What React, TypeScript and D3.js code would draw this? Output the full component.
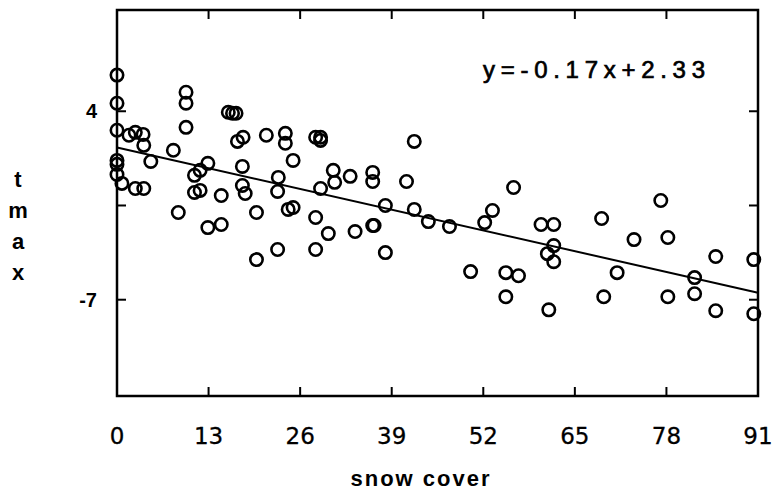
import React from "react";
import * as d3 from "d3";

// snow cover (x) and tmax (y)
const snowCover = [
  0, 0, 0, 0, 0, 0, 0.7, 1.7, 2.6, 3.7, 3.8, 2.6, 3.8, 4.8, 8.0, 9.8, 9.8, 9.8,
  15.8, 16.4, 16.9, 17.1, 17.9, 21.2, 23.9, 23.9, 25.0, 28.2, 28.9, 28.9,
  12.9, 11.8, 11.0, 17.8, 22.9, 28.9, 11.0, 11.8, 14.8, 17.8, 18.2, 22.8,
  30.7, 30.9, 33.1, 36.3, 36.3, 41.1, 42.2,
  8.7, 12.9, 14.8, 19.8, 24.3, 25.0, 28.2, 30.0, 33.8, 36.3, 36.5, 38.1, 42.2, 44.2, 47.2,
  19.8, 22.8, 28.2, 38.1,
  52.2, 53.3, 56.3, 60.2, 62.0, 62.0, 61.1, 62.0, 68.8, 77.2, 73.4, 78.2,
  50.2, 55.2, 57.0, 71.0, 82.0, 85.0, 90.4,
  55.2, 61.3, 69.1, 78.2, 82.0, 85.0, 90.4,
];
const tmax = [
  6.11, 4.47, 2.89, 1.13, 0.9, 0.31, -0.21, 2.6, 2.77, 2.65, 2.01, -0.51, -0.51, 1.07, 1.72, 5.11, 4.47, 3.06,
  3.94, 3.88, 3.88, 2.24, 2.48, 2.6, 2.71, 2.13, 1.13, 2.48, 2.48, 2.3,
  0.96, 0.55, 0.26, 0.78, 0.14, -0.51, -0.74, -0.62, -0.92, -0.33, -0.8, -0.68,
  0.55, -0.15, 0.2, 0.43, -0.1, -0.1, 2.24,
  -1.91, -2.79, -2.61, -1.91, -1.73, -1.62, -2.2, -3.14, -3.02, -2.67, -2.67, -1.5, -1.73, -2.44, -2.73,
  -4.66, -4.07, -4.07, -4.25,
  -2.5, -1.79, -0.45, -2.61, -2.61, -3.84, -4.31, -4.78, -2.26, -1.21, -3.49, -3.37,
  -5.36, -5.42, -5.6, -5.42, -5.71, -4.48, -4.66,
  -6.83, -7.59, -6.83, -6.83, -6.65, -7.64, -7.82,
];

const xTicks = [0, 13, 26, 39, 52, 65, 78, 91];
const yTicks = [4, -1.5, -7];
const yTickLabels = ["4", "", "-7"];
const fitEnds = [1.89, -6.59]; // drawn fit line values at x = 0 and x = 91
const equation = "y=-0.17x+2.33";
const yLabelLetters = ["t", "m", "a", "x"];

export default function App() {
  const W = 773, H = 503;
  const left = 117, right = 758, top = 10, bottom = 396;
  const x = d3.scaleLinear().domain([0, 91]).range([left, right]);
  const y = d3.scaleLinear().domain([-12.62, 9.91]).range([bottom, top]);
  const line = d3
    .line<[number, number]>()
    .x((d) => x(d[0]))
    .y((d) => y(d[1]));
  const fitPts: [number, number][] = [
    [0, fitEnds[0]],
    [91, fitEnds[1]],
  ];
  const tl = 9;
  return (
    <svg
      width={W}
      height={H}
      style={{ position: "absolute", left: 0, top: 0, background: "#fff" }}
    >
      <rect x={0} y={0} width={W} height={H} fill="#fff" />
      {/* frame */}
      <rect
        x={left}
        y={top}
        width={right - left}
        height={bottom - top}
        fill="none"
        stroke="#000"
        strokeWidth={2.5}
      />
      {/* x ticks top & bottom */}
      {xTicks.slice(1, -1).map((t) => (
        <g key={"xt" + t}>
          <line x1={x(t)} x2={x(t)} y1={top} y2={top + tl} stroke="#000" strokeWidth={2} />
          <line x1={x(t)} x2={x(t)} y1={bottom} y2={bottom - tl} stroke="#000" strokeWidth={2} />
        </g>
      ))}
      {/* y ticks left & right */}
      {yTicks.map((t) => (
        <g key={"yt" + t}>
          <line x1={left} x2={left + tl} y1={y(t)} y2={y(t)} stroke="#000" strokeWidth={2} />
          <line x1={right} x2={right - tl} y1={y(t)} y2={y(t)} stroke="#000" strokeWidth={2} />
        </g>
      ))}
      {/* x tick labels */}
      {xTicks.map((t) => (
        <text
          key={"xl" + t}
          x={x(t)}
          y={444}
          textAnchor="middle"
          fontFamily="DejaVu Sans"
          fontSize={23}
          fill="#000"
          stroke="#000"
          strokeWidth={0.3}
        >
          {t}
        </text>
      ))}
      {/* y tick labels */}
      {yTicks.map((t, i) => (
        <text
          key={"yl" + t}
          x={97}
          y={y(t) + 7}
          textAnchor="end"
          fontFamily="Liberation Sans"
          fontWeight="bold"
          fontSize={20}
          fill="#000"
        >
          {yTickLabels[i]}
        </text>
      ))}
      {/* fit line */}
      <path d={line(fitPts) || ""} fill="none" stroke="#000" strokeWidth={2} />
      {/* points */}
      {snowCover.map((v, i) => (
        <circle
          key={"p" + i}
          cx={x(v)}
          cy={y(tmax[i])}
          r={6.2}
          fill="none"
          stroke="#000"
          strokeWidth={2.6}
        />
      ))}
      {/* equation */}
      <text
        x={483}
        y={78}
        fontFamily="Liberation Sans"
        fontSize={24}
        textLength={222}
        lengthAdjust="spacing"
        fill="#000"
        stroke="#000"
        strokeWidth={0.7}
      >
        {equation}
      </text>
      {/* y axis label */}
      {yLabelLetters.map((c, i) => (
        <text
          key={"yal" + i}
          x={18}
          y={187 + i * 31}
          textAnchor="middle"
          fontFamily="Liberation Sans"
          fontWeight="bold"
          fontSize={22}
          fill="#000"
        >
          {c}
        </text>
      ))}
      {/* x axis label */}
      <text
        x={420}
        y={486}
        textAnchor="middle"
        fontFamily="Liberation Sans"
        fontWeight="bold"
        fontSize={22}
        textLength={139}
        lengthAdjust="spacing"
        fill="#000"
      >
        snow cover
      </text>
    </svg>
  );
}
